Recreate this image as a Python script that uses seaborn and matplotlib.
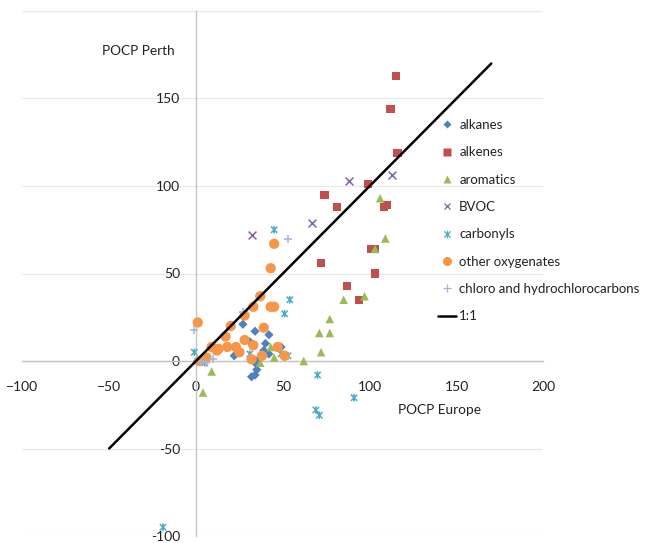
import numpy as np
import pandas as pd
import matplotlib
matplotlib.use("Agg")
import matplotlib.pyplot as plt
from matplotlib.path import Path
from matplotlib.lines import Line2D
import seaborn as sns

# ---------------- data ----------------
alkanes_x = [27, 34, 42, 40, 31, 49, 22, 39, 42, 35, 35, 34, 32, 36, 1]
alkanes_y = [21, 17, 15, 10, 11, 8, 3, 6, 4, -2, -5, -8, -9, 1, 0]

alkenes_x = [115, 112, 116, 99, 74, 81, 108, 110, 101, 103, 72, 103, 87, 94]
alkenes_y = [163, 144, 119, 101, 95, 88, 88, 89, 64, 64, 56, 50, 43, 35]

aromatics_x = [106, 109, 103, 97, 85, 77, 71, 77, 72, 62, 43, 45, 37, 9, 4]
aromatics_y = [93, 70, 64, 37, 35, 24, 16, 16, 5, 0, 8, 2, -1, -6, -18]

bvoc_x = [32, 67, 88, 113]
bvoc_y = [72, 79, 103, 106]

carbonyls_x = [45, 54, 51, -1, 31, 49, 53, 70, 69, 71, 91, -19, 5, 1]
carbonyls_y = [75, 35, 27, 5, 4, 4, 3, -8, -28, -31, -21, -95, -1, 0]

oxy_x = [45, 43, 37, 33, 43, 45, 28, 1, 20, 17, 39, 28, 33, 9, 12, 13, 18, 23, 25, 47, 32, 38, 51, 6, 4, 2]
oxy_y = [67, 53, 37, 31, 31, 31, 26, 22, 20, 14, 19, 12, 9, 8, 6, 7, 8, 8, 5, 8, 1, 3, 3, 2, 1, 0]

chloro_x = [53, -1, 27, 10, 3, 6]
chloro_y = [70, 18, 28, 1, 0, -1]

one_to_one = [-50, 170]

series_names = ["alkanes", "alkenes", "aromatics", "BVOC", "carbonyls",
                "other oxygenates", "chloro and hydrochlorocarbons"]
ticks = [-100, -50, 0, 50, 100, 150, 200]
x_title = "POCP Europe"
y_title = "POCP Perth"

# ---------------- style ----------------
sns.set_style("white")
plt.rcParams["font.family"] = ["Lato", "DejaVu Sans"]

colors = ["#4F81BD", "#C0504D", "#9BBB59", "#8064A2", "#4BACC6", "#F79646", "#A3B5DC"]
star = Path([(-1, -1), (1, 1), (-1, 1), (1, -1), (0, -1.2), (0, 1.2)],
            [Path.MOVETO, Path.LINETO, Path.MOVETO, Path.LINETO, Path.MOVETO, Path.LINETO])
markers = ["D", "s", "^", "x", star, "o", "+"]
kinds = ["filled", "filled", "filled", "line", "path", "filled", "line"]
sizes = [22, 34, 38, 32, 30, 55, 40]

data = [(alkanes_x, alkanes_y), (alkenes_x, alkenes_y), (aromatics_x, aromatics_y),
        (bvoc_x, bvoc_y), (carbonyls_x, carbonyls_y), (oxy_x, oxy_y), (chloro_x, chloro_y)]

W, H = 648, 543
fig = plt.figure(figsize=(W / 100, H / 100), dpi=100)
left, right = 22.3, 543.4
top, bottom = 11, 536
ax = fig.add_axes([left / W, (H - bottom) / H, (right - left) / W, (bottom - top) / H])

for i, (name, (xs, ys)) in enumerate(zip(series_names, data)):
    df = pd.DataFrame({"x": xs, "y": ys})
    if kinds[i] == "filled":
        kw = dict(edgecolor="none", color=colors[i])
    elif kinds[i] == "path":
        kw = dict(linewidth=1.1, edgecolor=colors[i], facecolor="none")
    else:
        kw = dict(linewidth=1.1, color=colors[i])
    sns.scatterplot(data=df, x="x", y="y", ax=ax, marker=markers[i],
                    s=sizes[i], zorder=3, legend=False, **kw)

sns.lineplot(x=one_to_one, y=one_to_one, ax=ax, color="black", linewidth=1.8, zorder=4)

ax.set_xlim(-100, 200)
ax.set_ylim(-100, 200)
ax.set_xticks(ticks)
ax.set_yticks(ticks)
ax.set_yticklabels([str(t) if t != 200 else "" for t in ticks])
ax.set_xlabel("")
ax.set_ylabel("")

for s in ["top", "right"]:
    ax.spines[s].set_visible(False)
for s in ["left", "bottom"]:
    ax.spines[s].set_position(("data", 0))
    ax.spines[s].set_color("#C4C4C4")
    ax.spines[s].set_linewidth(1.0)

ax.grid(axis="y", color="#E8E8E8", linewidth=0.9)
ax.set_axisbelow(True)
ax.tick_params(axis="both", direction="out", length=3.5, width=1, color="#C4C4C4",
               labelsize=10, labelcolor="#222222")
ax.tick_params(axis="x", pad=11)
ax.tick_params(axis="y", pad=8)
ax.patch.set_alpha(0)

ax.text(-33, 177, y_title, ha="center", va="center", fontsize=9.8, color="#222222")
ax.text(140, -28, x_title, ha="center", va="center", fontsize=9.8, color="#222222")

handles = []
leg_ms = [4, 5.5, 6, 5, 5.5, 6.5, 6]
for i, name in enumerate(series_names):
    if kinds[i] == "filled":
        h = Line2D([], [], linestyle="none", marker=markers[i], markersize=leg_ms[i],
                   markerfacecolor=colors[i], markeredgecolor="none", label=name)
    else:
        h = Line2D([], [], linestyle="none", marker=markers[i], markersize=leg_ms[i],
                   color=colors[i], markeredgecolor=colors[i], markerfacecolor="none",
                   markeredgewidth=0.9, label=name)
    handles.append(h)
handles.append(Line2D([], [], color="black", linewidth=1.8, label="1:1"))

leg = fig.legend(handles=handles, loc="upper left", bbox_to_anchor=(438 / W, 1 - 119 / H),
                 frameon=False, fontsize=9.5, handlelength=1.36, handletextpad=0.25,
                 labelspacing=1.16, borderaxespad=0, borderpad=0, labelcolor="#222222")

fig.savefig("out.png", dpi=100)
